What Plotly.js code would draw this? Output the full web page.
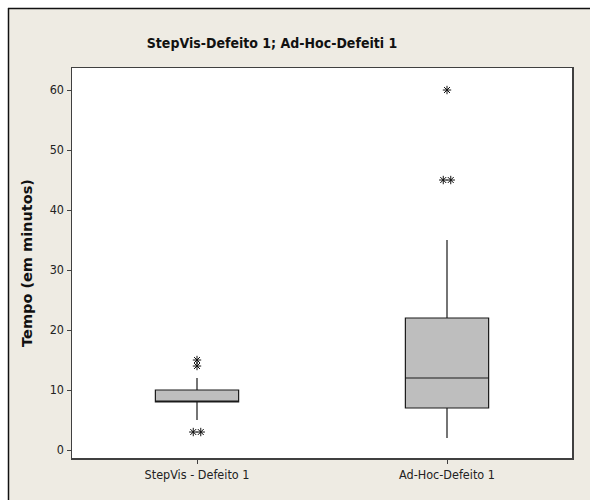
<!DOCTYPE html>
<html>
<head>
<meta charset="utf-8">
<script src="https://cdn.plot.ly/plotly-3.0.1.min.js"></script>
<style>html,body{margin:0;padding:0;background:#fff;}#chart{width:590px;height:500px;}</style>
</head>
<body>
<div id="chart"></div>
<script>
// Data
var categories = ["StepVis - Defeito 1", "Ad-Hoc-Defeito 1"];
var q1 = [8, 7];
var medians = [8, 12];
var q3 = [10, 22];
var lowerWhisker = [5, 2];
var upperWhisker = [12, 35];
var outliersStepVis = [15, 14, 3, 3];
var outliersAdHoc = [60, 45, 45];
var yTicks = [0, 10, 20, 30, 40, 50, 60];

var FONT = "DejaVu Sans Condensed, Tahoma, sans-serif";
var catIdx = categories.map(function (c, i) { return i; });

// spread duplicate outliers side by side (as Minitab does)
function outlierPoints(vals, idx) {
  var xs = [], ys = [], seen = {};
  var counts = {};
  vals.forEach(function (v) { counts[v] = (counts[v] || 0) + 1; });
  vals.forEach(function (v) {
    var n = counts[v];
    var k = seen[v] || 0;
    seen[v] = k + 1;
    var off = n > 1 ? (k - (n - 1) / 2) * 0.03 : 0;
    xs.push(idx + off);
    ys.push(v);
  });
  return {x: xs, y: ys};
}
var o1 = outlierPoints(outliersStepVis, 0);
var o2 = outlierPoints(outliersAdHoc, 1);

var traces = [
  {
    type: "box",
    x: catIdx,
    q1: q1, median: medians, q3: q3,
    lowerfence: lowerWhisker, upperfence: upperWhisker,
    width: 0.333,
    whiskerwidth: 0,
    fillcolor: "#BEBEBE",
    line: {color: "#1a1a1a", width: 1.2},
    boxpoints: false,
    showlegend: false,
    hoverinfo: "skip"
  },
  {
    type: "scatter", mode: "markers",
    x: o1.x.concat(o2.x), y: o1.y.concat(o2.y),
    marker: {symbol: "asterisk-open", size: 7, color: "#111", line: {color: "#111", width: 1}},
    showlegend: false, hoverinfo: "skip"
  }
];

// pixel helpers for frame shapes (plot area 72..572 x, 68..458 y)
var L = 72, R = 572, T = 68, B = 458;
function px(x) { return (x - L) / (R - L); }
function py(y) { return (B - y) / (B - T); }

var layout = {
  width: 590, height: 500,
  margin: {l: 72, r: 18, t: 68, b: 42},
  paper_bgcolor: "#EEEBE3",
  plot_bgcolor: "#FFFFFF",
  title: {
    text: "<b>StepVis-Defeito 1; Ad-Hoc-Defeiti 1</b>",
    font: {family: FONT, size: 14, color: "#111"},
    x: 272 / 590, xref: "container", xanchor: "center",
    y: 1 - 43 / 500, yref: "container", yanchor: "middle"
  },
  xaxis: {
    range: [-0.5, 1.5],
    tickmode: "array", tickvals: catIdx, ticktext: categories,
    ticks: "outside", ticklen: 4, tickcolor: "#404040",
    showgrid: false, zeroline: false,
    showline: true, linecolor: "#404040", linewidth: 1.5, mirror: true,
    tickfont: {family: FONT, size: 12.5, color: "#222"}
  },
  yaxis: {
    range: [-1.33, 63.67],
    tickmode: "array", tickvals: yTicks,
    ticks: "outside", ticklen: 4, tickcolor: "#404040",
    showgrid: false, zeroline: false,
    showline: true, linecolor: "#404040", linewidth: 1.5, mirror: true,
    tickfont: {family: FONT, size: 12.5, color: "#222"},
    title: {text: "<b>Tempo (em minutos)</b>", font: {family: "DejaVu Sans, Verdana, sans-serif", size: 14.5, color: "#111"}, standoff: 13}
  },
  shapes: [
    {type: "rect", xref: "paper", yref: "paper", x0: px(0), x1: px(600), y0: py(0), y1: py(8), fillcolor: "#FFFFFF", line: {width: 0}, layer: "below"},
    {type: "rect", xref: "paper", yref: "paper", x0: px(0), x1: px(8), y0: py(0), y1: py(510), fillcolor: "#FFFFFF", line: {width: 0}, layer: "below"},
    {type: "line", xref: "paper", yref: "paper", x0: px(8), x1: px(600), y0: py(8.5), y1: py(8.5), line: {color: "#111", width: 1.5}},
    {type: "line", xref: "paper", yref: "paper", x0: px(8.5), x1: px(8.5), y0: py(8), y1: py(510), line: {color: "#111", width: 1.5}}
  ]
};

Plotly.newPlot("chart", traces, layout, {staticPlot: true, displayModeBar: false});
</script>
</body>
</html>
